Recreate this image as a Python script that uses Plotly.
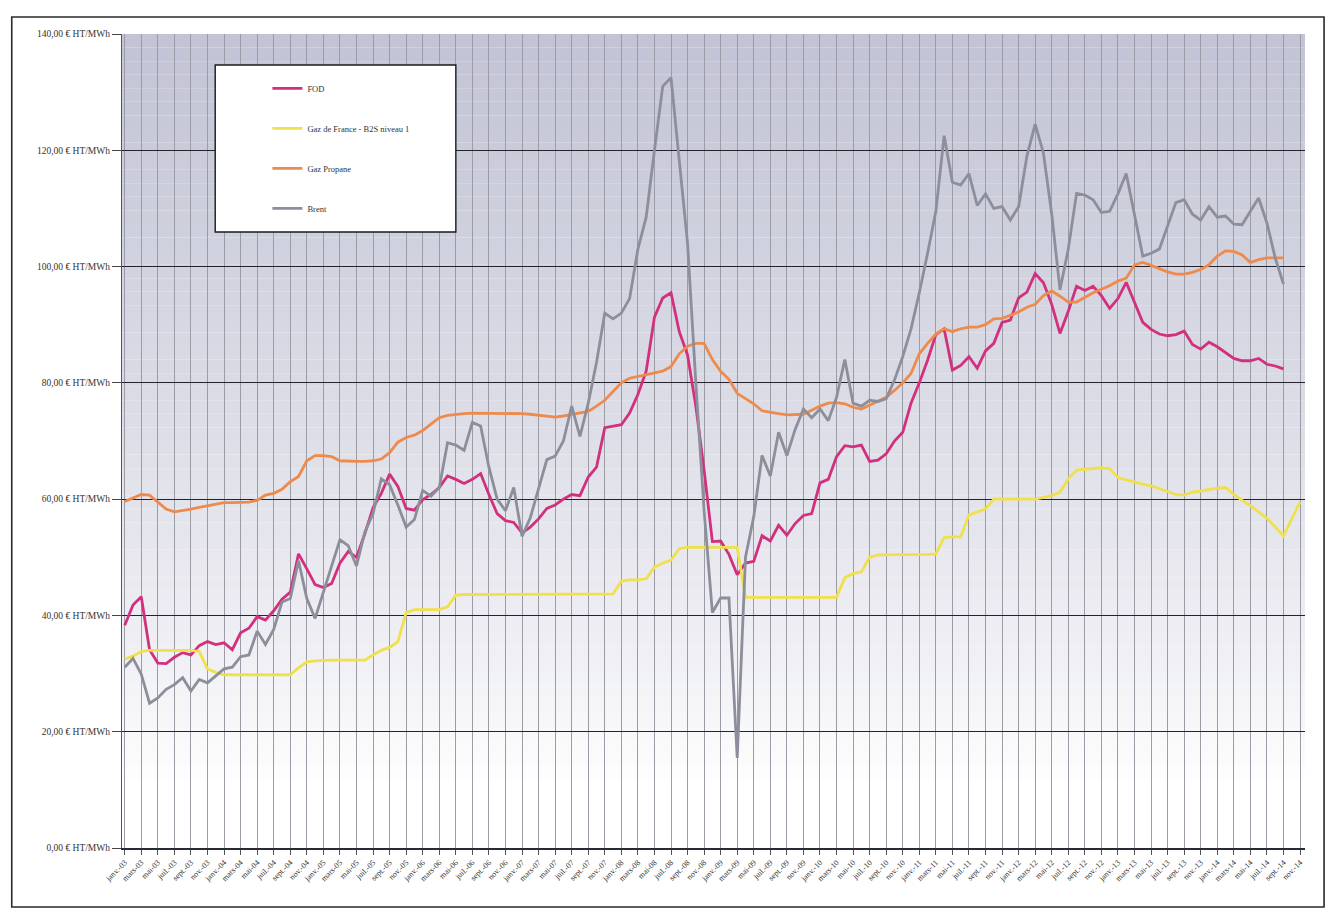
import plotly.graph_objects as go

# ---------------- data ----------------
mois_fr = ["janv.", "févr.", "mars", "avr.", "mai", "juin",
           "juil.", "août", "sept.", "oct.", "nov.", "déc."]
annees = ["03", "04", "05", "06", "07", "08", "09", "10", "11", "12", "13", "14"]
mois = [f"{m}-{a}" for a in annees for m in mois_fr][:143]   # janv.-03 .. nov.-14

y_ticks = [0, 20, 40, 60, 80, 100, 120, 140]
y_labels = ["0,00 € HT/MWh", "20,00 € HT/MWh", "40,00 € HT/MWh", "60,00 € HT/MWh",
            "80,00 € HT/MWh", "100,00 € HT/MWh", "120,00 € HT/MWh", "140,00 € HT/MWh"]

fod = [38.3, 41.8, 43.2, 34.1, 31.8, 31.7, 32.8, 33.6, 33.2, 34.8,
       35.5, 35.0, 35.3, 34.1, 37.0, 37.8, 39.8, 39.2, 40.8, 42.8,
       44.0, 50.6, 48.0, 45.3, 44.8, 45.5, 49.0, 51.0, 50.0, 54.0,
       58.5, 61.0, 64.3, 62.2, 58.4, 58.1, 59.9, 60.8, 62.0, 64.0,
       63.4, 62.7, 63.4, 64.4, 60.8, 57.5, 56.3, 56.0, 54.2, 55.2,
       56.6, 58.4, 59.0, 60.0, 60.8, 60.6, 63.8, 65.5, 72.3, 72.6,
       72.8, 74.8, 78.0, 82.0, 91.3, 94.6, 95.5, 88.8, 84.8, 76.0,
       65.0, 52.7, 52.8, 50.5, 47.0, 49.0, 49.3, 53.7, 52.8, 55.5,
       53.8, 55.8, 57.2, 57.5, 62.8, 63.4, 67.3, 69.2, 69.0, 69.3,
       66.5, 66.7, 67.8, 70.0, 71.5, 76.5, 80.0, 83.9, 88.3, 89.3,
       82.2, 83.0, 84.5, 82.5, 85.5, 86.8, 90.4, 90.8, 94.6, 95.6,
       98.8, 97.2, 93.5, 88.5, 92.3, 96.6, 95.9, 96.6, 95.0, 92.8,
       94.5, 97.3, 94.0, 90.4, 89.2, 88.4, 88.1, 88.3, 88.9, 86.6,
       85.8, 87.0, 86.2, 85.2, 84.2, 83.8, 83.8, 84.2, 83.2, 82.9,
       82.4]

gaz_b2s = [32.5, 33.0, 33.8, 34.0, 34.0, 34.0, 34.0, 34.0, 34.0, 33.8,
           30.8, 30.2, 29.8, 29.8, 29.8, 29.8, 29.8, 29.8, 29.8, 29.8,
           29.8, 31.0, 32.0, 32.2, 32.3, 32.3, 32.3, 32.3, 32.3, 32.3,
           33.2, 34.0, 34.5, 35.5, 40.5, 41.0, 41.0, 41.0, 41.0, 41.5,
           43.5, 43.6, 43.6, 43.6, 43.6, 43.6, 43.6, 43.6, 43.6, 43.6,
           43.7, 43.7, 43.7, 43.7, 43.7, 43.7, 43.7, 43.7, 43.7, 43.7,
           45.9, 46.1, 46.1, 46.3, 48.3, 49.0, 49.5, 51.5, 51.7, 51.7,
           51.7, 51.7, 51.7, 51.7, 51.7, 43.1, 43.1, 43.1, 43.1, 43.1,
           43.1, 43.1, 43.1, 43.1, 43.1, 43.1, 43.1, 46.5, 47.2, 47.5,
           50.0, 50.4, 50.4, 50.5, 50.5, 50.5, 50.5, 50.5, 50.6, 53.4,
           53.5, 53.5, 57.3, 57.8, 58.3, 60.0, 60.0, 60.0, 60.0, 60.0,
           60.0, 60.3, 60.6, 61.2, 63.5, 65.0, 65.1, 65.2, 65.4, 65.2,
           63.7, 63.3, 62.9, 62.6, 62.3, 61.8, 61.3, 60.8, 60.7, 61.2,
           61.4, 61.7, 61.9, 62.0, 60.8, 59.8, 58.9, 57.8, 56.7, 55.2,
           53.7, 56.6, 59.5]

gaz_propane = [59.6, 60.2, 60.8, 60.7, 59.5, 58.3, 57.8, 58.0, 58.3, 58.6,
               58.9, 59.2, 59.4, 59.4, 59.4, 59.5, 59.8, 60.7, 61.0, 61.7,
               63.0, 63.9, 66.6, 67.5, 67.5, 67.3, 66.6, 66.5, 66.5, 66.5,
               66.6, 66.9, 68.0, 69.8, 70.6, 71.0, 71.8, 72.9, 74.0, 74.4,
               74.6, 74.7, 74.8, 74.8, 74.8, 74.7, 74.7, 74.7, 74.7, 74.6,
               74.4, 74.2, 74.1, 74.3, 74.6, 74.9, 75.1, 76.0, 77.0, 78.5,
               80.0, 80.8, 81.1, 81.4, 81.7, 82.0, 82.8, 85.0, 86.3, 86.8,
               86.8, 84.0, 82.0, 80.6, 78.2, 77.3, 76.4, 75.2, 74.9, 74.7,
               74.5, 74.5, 74.6, 75.3, 76.0, 76.5, 76.6, 76.4, 75.8, 75.5,
               76.2, 76.8, 77.5, 78.7, 80.0, 81.6, 85.0, 86.8, 88.4, 89.3,
               88.8, 89.3, 89.6, 89.6, 90.0, 91.0, 91.1, 91.6, 92.2, 93.0,
               93.5, 95.0, 95.8, 94.9, 93.9, 93.9, 94.7, 95.5, 96.1, 96.7,
               97.5, 98.0, 100.3, 100.7, 100.2, 99.6, 99.1, 98.7, 98.7, 99.0,
               99.5, 100.3, 101.8, 102.7, 102.6, 102.0, 100.7, 101.2, 101.5, 101.5,
               101.5]

brent = [31.1, 32.6, 29.9, 24.9, 25.8, 27.3, 28.1, 29.3, 27.0, 29.0,
         28.4, 29.6, 30.8, 31.1, 32.9, 33.2, 37.3, 35.0, 37.6, 42.3,
         42.9, 49.4, 42.9, 39.5, 44.0, 48.5, 53.0, 52.0, 48.5, 54.3,
         57.5, 63.5, 62.5, 59.0, 55.2, 56.5, 61.5, 60.5, 62.0, 69.7,
         69.3, 68.4, 73.2, 72.6, 65.5, 60.0, 58.0, 62.0, 53.6, 56.8,
         62.0, 66.8, 67.4, 70.0, 76.0, 70.8, 76.5, 83.5, 92.0, 91.0,
         92.0, 94.5, 103.0, 108.5, 120.0, 131.0, 132.5, 118.0, 104.0, 80.0,
         58.0, 40.5, 43.0, 43.0, 15.5, 50.0, 57.0, 67.5, 64.0, 71.5,
         67.5, 72.0, 75.5, 74.0, 75.5, 73.5, 77.5, 84.0, 76.5, 76.0,
         77.0, 76.8, 77.3, 80.5, 84.5, 89.3, 95.5, 102.3, 109.5, 122.5,
         114.5, 114.0, 116.0, 110.5, 112.5, 110.0, 110.3, 108.0, 110.3, 119.0,
         124.5, 119.5, 109.0, 96.0, 103.0, 112.6, 112.3, 111.5, 109.3, 109.5,
         112.5, 116.0, 109.0, 101.8, 102.3, 103.0, 107.0, 111.0, 111.5, 109.0,
         108.0, 110.3, 108.5, 108.7, 107.3, 107.2, 109.5, 111.8, 107.5, 101.5,
         97.0]

series = [
    ("FOD", fod, "#d2307e"),
    ("Gaz de France - B2S niveau 1", gaz_b2s, "#efe04c"),
    ("Gaz Propane", gaz_propane, "#ee8a4c"),
    ("Brent", brent, "#8c8f9b"),
]

# ---------------- figure ----------------
fig = go.Figure()
for name, vals, color in series:
    fig.add_trace(go.Scatter(
        x=mois[:len(vals)], y=vals, mode="lines", name=name,
        legendgroup=name,
        line=dict(color=color, width=2.8),
    ))

# gradient background of plot area (lavender-grey at top, white at bottom)
shapes = []
N = 60
top = (194, 195, 212)
for i in range(N):
    t = (i + 0.5) / N
    w = max(0.0, min(1.0, (t - 0.08) / 0.92)) ** 0.8
    c = tuple(int(round(255 * (1 - w) + top[k] * w)) for k in range(3))
    shapes.append(dict(type="rect", xref="x domain", yref="y domain",
                       x0=0, x1=1, y0=i / N, y1=(i + 1) / N,
                       fillcolor=f"rgb{c}", line=dict(width=0), layer="below"))

# legend box
shapes.append(dict(type="rect", xref="paper", yref="paper",
                   x0=0.0788, x1=0.2822, y0=0.7568, y1=0.9619,
                   fillcolor="white", line=dict(color="#1a1a1a", width=1.4),
                   layer="above"))
# outer frame of the chart
shapes.append(dict(type="rect", xref="paper", yref="paper",
                   x0=-0.0932, x1=1.0161, y0=-0.0725, y1=1.0209,
                   fillcolor="rgba(0,0,0,0)", line=dict(color="#2a2a2a", width=1.6),
                   layer="above"))

fig.update_layout(
    width=1325, height=914,
    margin=dict(l=122, r=20, t=34, b=66),
    paper_bgcolor="white", plot_bgcolor="white",
    font=dict(family="Liberation Serif", color="#333333"),
    shapes=shapes,
    showlegend=True,
    legend=dict(x=0.1229, y=0.951, xanchor="left", yanchor="top",
                bgcolor="rgba(0,0,0,0)", borderwidth=0,
                font=dict(family="Liberation Serif", size=8.5, color="#333333"),
                tracegroupgap=21, itemwidth=30),
    xaxis=dict(
        type="category", range=[-0.33, 142.6],
        tickmode="array", tickvals=mois[::2], ticktext=mois[::2],
        tickangle=-45, tickfont=dict(family="Liberation Serif", size=8, color="#333333"),
        showgrid=True, gridcolor="#9c9ca6", gridwidth=1,
        ticks="outside", ticklen=5, tickcolor="#555555",
        showline=True, linecolor="#2a2a35", linewidth=1.5,
        zeroline=False,
    ),
    yaxis=dict(
        range=[0, 140], tickmode="array", tickvals=y_ticks, ticktext=y_labels,
        tickfont=dict(family="Liberation Serif", size=9.5, color="#333333"),
        showgrid=True, gridcolor="#23232f", gridwidth=1.3,
        ticks="outside", ticklen=9, tickcolor="#444444",
        showline=True, linecolor="#555560", linewidth=1.2,
        zeroline=False,
    ),
)

fig.write_html("out.html")
